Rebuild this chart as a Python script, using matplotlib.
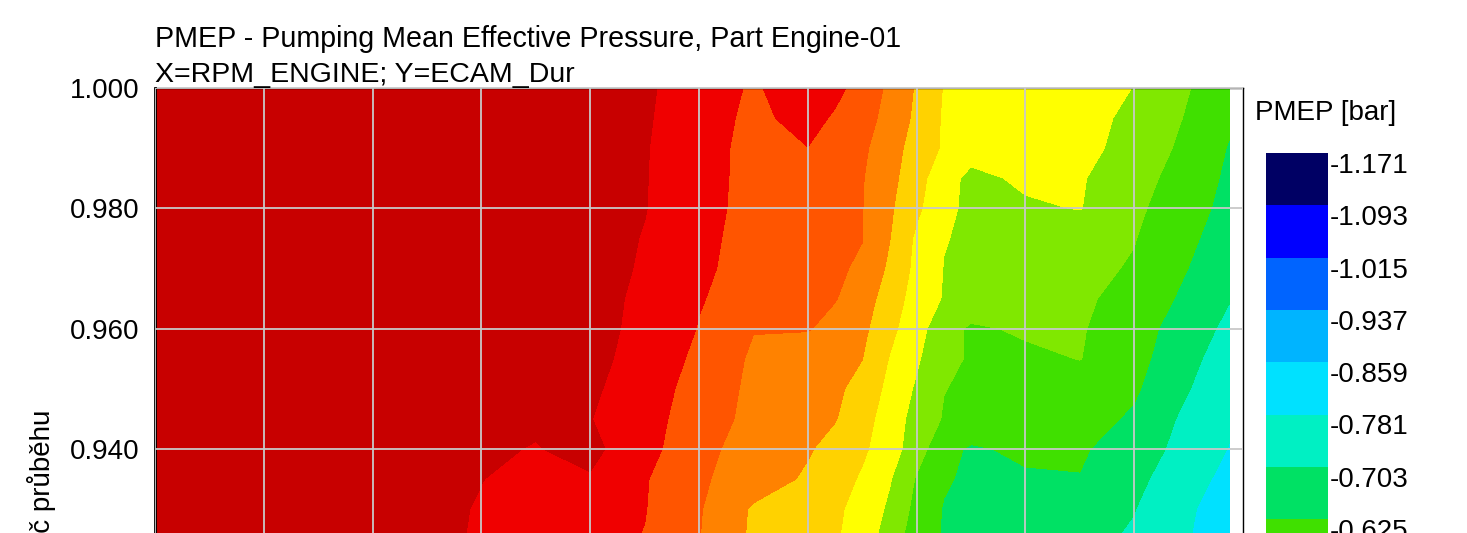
import numpy as np
import matplotlib
matplotlib.use("Agg")
import matplotlib.pyplot as plt

plt.rcParams['font.family'] = ['Liberation Sans', 'DejaVu Sans']

# engine speed columns [rpm] and cam duration rows
rpm = [1000, 1500, 2000, 2500, 2750, 3000, 3250, 3500, 3750, 4000, 4125,
       4250, 4375, 4500, 4625, 4750, 5000, 5250, 5500, 5750, 5940]
ecam_dur = [1.000, 0.995, 0.990, 0.985, 0.980, 0.975, 0.970, 0.965, 0.960,
            0.955, 0.950, 0.945, 0.940, 0.935, 0.930, 0.925, 0.920]

# PMEP [bar], one row per ecam_dur value
pmep = [
    [-0.02, -0.02, -0.025, -0.03, -0.035, -0.045, -0.066, -0.123, -0.165, -0.12, -0.14, -0.182, -0.251, -0.321, -0.395, -0.43, -0.44, -0.45, -0.47, -0.544, -0.602],
    [-0.02, -0.02, -0.025, -0.03, -0.035, -0.045, -0.07, -0.127, -0.172, -0.135, -0.165, -0.207, -0.258, -0.33, -0.40, -0.43, -0.44, -0.455, -0.478, -0.556, -0.616],
    [-0.02, -0.02, -0.025, -0.03, -0.035, -0.045, -0.073, -0.14, -0.170, -0.158, -0.19, -0.222, -0.277, -0.348, -0.40, -0.435, -0.445, -0.46, -0.48, -0.576, -0.630],
    [-0.02, -0.02, -0.025, -0.03, -0.035, -0.045, -0.075, -0.135, -0.175, -0.203, -0.217, -0.231, -0.288, -0.363, -0.437, -0.49, -0.455, -0.462, -0.518, -0.583, -0.640],
    [-0.02, -0.02, -0.025, -0.03, -0.035, -0.045, -0.076, -0.137, -0.176, -0.205, -0.219, -0.233, -0.301, -0.377, -0.446, -0.49, -0.48, -0.466, -0.532, -0.596, -0.649],
    [-0.02, -0.02, -0.025, -0.03, -0.035, -0.045, -0.083, -0.142, -0.178, -0.207, -0.221, -0.233, -0.310, -0.405, -0.466, -0.480, -0.501, -0.522, -0.544, -0.610, -0.667],
    [-0.02, -0.02, -0.025, -0.03, -0.035, -0.05, -0.087, -0.146, -0.180, -0.209, -0.223, -0.247, -0.327, -0.412, -0.471, -0.482, -0.504, -0.527, -0.554, -0.626, -0.683],
    [-0.02, -0.02, -0.025, -0.03, -0.035, -0.045, -0.099, -0.153, -0.185, -0.216, -0.231, -0.278, -0.347, -0.426, -0.474, -0.486, -0.510, -0.533, -0.576, -0.643, -0.70],
    [-0.02, -0.02, -0.025, -0.03, -0.035, -0.049, -0.103, -0.160, -0.232, -0.230, -0.26, -0.295, -0.370, -0.441, -0.514, -0.56, -0.535, -0.54, -0.595, -0.662, -0.724],
    [-0.02, -0.02, -0.025, -0.03, -0.035, -0.056, -0.110, -0.173, -0.247, -0.280, -0.297, -0.312, -0.394, -0.459, -0.527, -0.555, -0.565, -0.545, -0.600, -0.682, -0.746],
    [-0.02, -0.02, -0.025, -0.03, -0.035, -0.067, -0.119, -0.187, -0.252, -0.285, -0.301, -0.335, -0.413, -0.479, -0.545, -0.56, -0.575, -0.59, -0.615, -0.70, -0.77],
    [-0.02, -0.025, -0.03, -0.04, -0.07, -0.077, -0.127, -0.197, -0.256, -0.292, -0.309, -0.361, -0.427, -0.498, -0.553, -0.565, -0.58, -0.595, -0.636, -0.724, -0.77],
    [-0.02, -0.025, -0.03, -0.07, -0.082, -0.06, -0.13, -0.214, -0.266, -0.306, -0.339, -0.379, -0.431, -0.513, -0.60, -0.635, -0.61, -0.615, -0.667, -0.730, -0.785],
    [-0.02, -0.03, -0.04, -0.078, -0.095, -0.085, -0.151, -0.224, -0.274, -0.324, -0.360, -0.40, -0.462, -0.554, -0.616, -0.64, -0.635, -0.628, -0.685, -0.750, -0.806],
    [-0.02, -0.03, -0.045, -0.083, -0.107, -0.131, -0.154, -0.229, -0.323, -0.361, -0.379, -0.415, -0.483, -0.570, -0.63, -0.638, -0.659, -0.679, -0.701, -0.770, -0.828],
    [-0.02, -0.03, -0.045, -0.085, -0.109, -0.134, -0.160, -0.233, -0.327, -0.365, -0.383, -0.430, -0.505, -0.589, -0.631, -0.642, -0.663, -0.684, -0.712, -0.778, -0.835],
    [-0.02, -0.03, -0.045, -0.088, -0.112, -0.137, -0.165, -0.238, -0.330, -0.37, -0.39, -0.44, -0.515, -0.60, -0.635, -0.646, -0.668, -0.69, -0.72, -0.79, -0.845],
]

levels = [-1.171, -1.093, -1.015, -0.937, -0.859, -0.781, -0.703, -0.625,
          -0.547, -0.469, -0.391, -0.313, -0.235, -0.157, -0.079, -0.001]
band_colors = ['#000064', '#0000ff', '#0064ff', '#00b4ff', '#00e1ff',
               '#00f0c3', '#00e164', '#40e000', '#80e800', '#ffff00',
               '#ffd200', '#ff8200', '#ff5500', '#f00000', '#c80000']

W, H = 1467, 533
fig = plt.figure(figsize=(W / 100, H / 100), dpi=100)

# axes runs below the bottom edge of the picture (cropped chart)
ylo, yhi = 0.920, 1.000
px_per_unit = 120.3 / 0.02
ax_h = (yhi - ylo) * px_per_unit
ax = fig.add_axes([155 / W, 1 - (88 + ax_h) / H, 1088 / W, ax_h / H])

X, Y = np.meshgrid(rpm, ecam_dur)
cs = ax.contourf(X, Y, np.array(pmep), levels=levels, colors=band_colors)

ax.set_xlim(1000, 6000)
ax.set_ylim(ylo, yhi)
ax.set_xticks(np.arange(1000, 6001, 500))
ax.set_yticks([0.92, 0.94, 0.96, 0.98, 1.00])
ax.set_yticklabels(['%.3f' % v for v in [0.92, 0.94, 0.96, 0.98, 1.00]])
ax.tick_params(axis='x', length=0, labelbottom=False)
ax.tick_params(axis='y', length=0, pad=11, labelsize=20)
ax.grid(True, color='#c8c8c8', lw=1.3)
ax.set_axisbelow(False)
for s in ax.spines.values():
    s.set_color('black')
    s.set_linewidth(1.0)
ax.spines['left'].set_linewidth(2.0)

fig.text(155 / W, 1 - 47 / H, 'PMEP - Pumping Mean Effective Pressure, Part Engine-01',
         fontsize=20.6, va='baseline', ha='left')
fig.text(155 / W, 1 - 82 / H, 'X=RPM_ENGINE; Y=ECAM_Dur',
         fontsize=20.5, va='baseline', ha='left')
fig.text(42 / W, 1 - 410 / H, 'Násobič průběhu', fontsize=20,
         rotation=90, ha='center', va='top')

# colour legend, low values on top
cb_h = 52.3 * 15
cax = fig.add_axes([1266 / W, 1 - (153 + cb_h) / H, 62 / W, cb_h / H])
cb = fig.colorbar(cs, cax=cax)
cb.outline.set_visible(False)
cax.invert_yaxis()
cax.set_yticks(levels)
cax.set_yticklabels(['%.3f' % v for v in levels])
cax.tick_params(length=0, pad=1, labelsize=20)
for t in cax.get_yticklabels():
    t.set_va('top')
fig.text(1255 / W, 1 - 120 / H, 'PMEP [bar]', fontsize=20, va='baseline', ha='left')

fig.savefig('out.png', dpi=100)
